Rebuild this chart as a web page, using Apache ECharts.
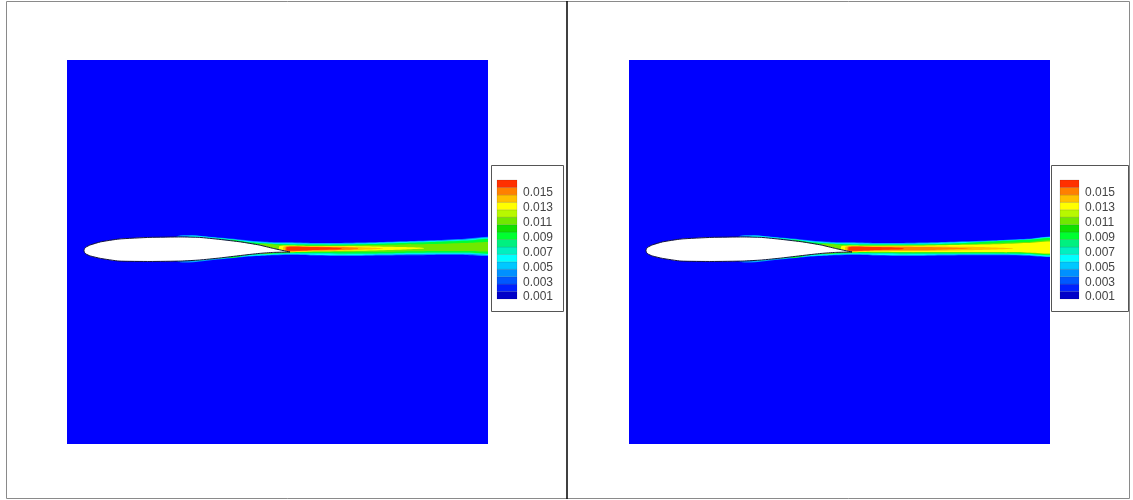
<!DOCTYPE html>
<html>
<head>
<meta charset="utf-8">
<title>wake contour</title>
<script src="https://cdn.jsdelivr.net/npm/echarts@6/dist/echarts.min.js"></script>
<style>
html, body { margin: 0; padding: 0; background: #fff; }
#main { width: 1133px; height: 500px; }
</style>
</head>
<body>
<div id="main"></div>
<script>
// contour colours, lowest level first
var levelColors = ['#0000c8', '#0020ff', '#0058ff', '#0090ff', '#00c8ff', '#00ffff', '#00f0c0', '#00f080',
	'#00ff30', '#10e000', '#70e800', '#b8f800', '#ffff00', '#ffc000', '#ff8000', '#ff3000'];
// band edges of the colour bar
var levelEdges = [0.00075, 0.00175, 0.00275, 0.00375, 0.00475, 0.00575, 0.00675, 0.00775, 0.00875,
	0.00975, 0.01075, 0.01175, 0.01275, 0.01375, 0.01475, 0.01575, 0.01675];
var legendTicks = [0.001, 0.003, 0.005, 0.007, 0.009, 0.011, 0.013, 0.015];

// airfoil surface [x/c, y/c]
var airfoilUpper = [[0, 0.002], [0.003, 0.012], [0.01, 0.019], [0.03, 0.029], [0.08, 0.044], [0.17, 0.058],
	[0.32, 0.066], [0.47, 0.068], [0.56, 0.066], [0.66, 0.056], [0.76, 0.044], [0.85, 0.029], [0.92, 0.012], [1.0, -0.005]];
var airfoilLower = [[0, 0.002], [0.003, -0.008], [0.01, -0.015], [0.03, -0.024], [0.08, -0.036], [0.17, -0.049],
	[0.32, -0.051], [0.47, -0.049], [0.56, -0.044], [0.66, -0.034], [0.76, -0.022], [0.85, -0.012], [0.92, -0.007], [1.0, -0.005]];

// wake / boundary layer contour bands: [x/c, upper y/c, lower y/c]
// left panel
var leftBand3 = [[0.45, 0.070, -0.050], [0.65, 0.065, -0.041], [0.8, 0.051, -0.027], [0.9, 0.044, -0.022], [1.0, 0.042, -0.020],
	[1.1, 0.039, -0.022], [1.25, 0.039, -0.025], [1.4, 0.042, -0.023], [1.55, 0.047, -0.021], [1.7, 0.052, -0.019], [1.85, 0.059, -0.019], [2.0, 0.064, -0.019]];
var leftBand5 = [[0.5, 0.068, -0.045], [0.65, 0.063, -0.037], [0.8, 0.047, -0.024], [0.9, 0.039, -0.019], [1.0, 0.037, -0.015],
	[1.1, 0.035, -0.018], [1.25, 0.035, -0.020], [1.4, 0.038, -0.018], [1.55, 0.043, -0.016], [1.7, 0.048, -0.014], [1.85, 0.055, -0.014], [2.0, 0.060, -0.014]];
var leftBand6 = [[0.6, 0.060, -0.036], [0.8, 0.044, -0.021], [0.9, 0.037, -0.017], [1.0, 0.035, -0.013], [1.1, 0.033, -0.015],
	[1.25, 0.033, -0.017], [1.4, 0.036, -0.015], [1.55, 0.041, -0.013], [1.7, 0.046, -0.011], [1.85, 0.053, -0.011], [2.0, 0.058, -0.011]];
var leftBand8 = [[0.7, 0.051, -0.031], [0.8, 0.042, -0.019], [0.9, 0.035, -0.014], [1.0, 0.032, -0.010], [1.1, 0.031, -0.010],
	[1.25, 0.031, -0.012], [1.4, 0.034, -0.012], [1.55, 0.039, -0.010], [1.7, 0.044, -0.008], [1.85, 0.050, -0.008], [2.0, 0.055, -0.008]];
var leftBand10 = [[0.85, 0.032, -0.012], [0.95, 0.029, -0.007], [1.0, 0.027, -0.005], [1.1, 0.027, -0.005], [1.25, 0.027, -0.005],
	[1.4, 0.029, -0.004], [1.55, 0.032, -0.002], [1.7, 0.034, 0.000], [1.85, 0.039, 0.000], [2.0, 0.041, 0.002]];
var leftBand12 = [[0.95, 0.024, -0.004], [1.1, 0.024, -0.002], [1.25, 0.024, 0.000], [1.4, 0.022, 0.002], [1.55, 0.019, 0.007],
	[1.65, 0.015, 0.012]];
var leftBand13 = [[0.97, 0.022, -0.002], [1.1, 0.022, 0.000], [1.25, 0.022, 0.002], [1.38, 0.017, 0.007], [1.45, 0.013, 0.011]];
var leftBand14 = [[0.98, 0.021, 0.000], [1.1, 0.021, 0.002], [1.25, 0.019, 0.005], [1.33, 0.014, 0.010]];
var leftBand15 = [[0.985, 0.019, 0.002], [1.1, 0.019, 0.004], [1.2, 0.017, 0.007], [1.25, 0.013, 0.010]];

// right panel
var rightBand3 = [[0.45, 0.070, -0.050], [0.65, 0.065, -0.041], [0.8, 0.051, -0.027], [0.9, 0.044, -0.022], [1.0, 0.042, -0.020],
	[1.1, 0.039, -0.022], [1.25, 0.039, -0.025], [1.4, 0.042, -0.023], [1.55, 0.047, -0.021], [1.7, 0.052, -0.021], [1.85, 0.059, -0.023], [2.0, 0.066, -0.023]];
var rightBand5 = [[0.5, 0.068, -0.045], [0.65, 0.063, -0.037], [0.8, 0.047, -0.024], [0.9, 0.039, -0.019], [1.0, 0.037, -0.015],
	[1.1, 0.035, -0.018], [1.25, 0.035, -0.020], [1.4, 0.038, -0.018], [1.55, 0.043, -0.016], [1.7, 0.049, -0.016], [1.85, 0.056, -0.019], [2.0, 0.064, -0.021]];
var rightBand6 = [[0.6, 0.060, -0.036], [0.8, 0.044, -0.021], [0.9, 0.037, -0.017], [1.0, 0.035, -0.013], [1.1, 0.033, -0.015],
	[1.25, 0.033, -0.017], [1.4, 0.036, -0.015], [1.55, 0.040, -0.013], [1.7, 0.047, -0.013], [1.85, 0.054, -0.016], [2.0, 0.061, -0.018]];
var rightBand8 = [[0.7, 0.051, -0.031], [0.8, 0.042, -0.019], [0.9, 0.035, -0.014], [1.0, 0.032, -0.010], [1.1, 0.031, -0.010],
	[1.25, 0.031, -0.012], [1.4, 0.033, -0.012], [1.55, 0.039, -0.012], [1.7, 0.047, -0.012], [1.85, 0.054, -0.013], [2.0, 0.059, -0.015]];
var rightBand10 = [[0.85, 0.032, -0.012], [0.95, 0.029, -0.007], [1.0, 0.027, -0.005], [1.1, 0.027, -0.007], [1.25, 0.028, -0.008],
	[1.4, 0.030, -0.008], [1.55, 0.033, -0.008], [1.7, 0.038, -0.008], [1.85, 0.043, -0.010], [2.0, 0.050, -0.012]];
var rightBand12 = [[0.95, 0.024, -0.004], [1.1, 0.025, -0.004], [1.25, 0.025, -0.005], [1.4, 0.027, -0.005], [1.55, 0.030, -0.005],
	[1.7, 0.033, -0.005], [1.85, 0.039, -0.007], [2.0, 0.043, -0.009]];
var rightBand13 = [[0.97, 0.022, -0.002], [1.1, 0.022, 0.000], [1.25, 0.022, 0.000], [1.4, 0.022, 0.000], [1.55, 0.020, 0.003],
	[1.65, 0.018, 0.006], [1.78, 0.013, 0.011]];
var rightBand14 = [[0.98, 0.021, 0.000], [1.1, 0.021, 0.002], [1.25, 0.020, 0.003], [1.4, 0.018, 0.005], [1.52, 0.015, 0.009], [1.58, 0.012, 0.011]];
var rightBand15 = [[0.985, 0.019, 0.002], [1.1, 0.019, 0.004], [1.2, 0.017, 0.007], [1.25, 0.013, 0.010]];

// which colour level each band uses
var bandLevels = [3, 5, 6, 8, 10, 12, 13, 14, 15];
var leftWake = [leftBand3, leftBand5, leftBand6, leftBand8, leftBand10, leftBand12, leftBand13, leftBand14, leftBand15];
var rightWake = [rightBand3, rightBand5, rightBand6, rightBand8, rightBand10, rightBand12, rightBand13, rightBand14, rightBand15];

var xRange = [-0.0825, 1.961];
var yRange = [-0.937, 0.927];

/**
 * 一个等值带：上边界正向，下边界反向拼成多边形
 */
function wakeSeries(gi, wake) {
	return {
		type : 'custom',
		xAxisIndex : gi,
		yAxisIndex : gi,
		clip : true,
		silent : true,
		data : wake.map(function(b, i) { return [b[0][0], b[0][1], i]; }),
		renderItem : function(params, api) {
			var band = wake[params.dataIndex];
			var pts = [];
			for (var k = 0; k < band.length; k++) {
				pts.push(api.coord([band[k][0], band[k][1]]));
			}
			for (var k = band.length - 1; k >= 0; k--) {
				pts.push(api.coord([band[k][0], band[k][2]]));
			}
			return {
				type : 'polygon',
				shape : { points : pts, smooth : 0.25 },
				style : { fill : levelColors[bandLevels[params.dataIndex]] }
			};
		}
	};
}

/**
 * 翼型（白色填充，黑色轮廓）
 */
function airfoilSeries(gi) {
	return {
		type : 'custom',
		xAxisIndex : gi,
		yAxisIndex : gi,
		clip : true,
		silent : true,
		data : [[0, 0]],
		renderItem : function(params, api) {
			var pts = [];
			for (var k = 0; k < airfoilUpper.length; k++) {
				pts.push(api.coord(airfoilUpper[k]));
			}
			for (var k = airfoilLower.length - 1; k > 0; k--) {
				pts.push(api.coord(airfoilLower[k]));
			}
			return {
				type : 'polygon',
				shape : { points : pts, smooth : 0.15 },
				style : { fill : '#ffffff', stroke : '#14143c', lineWidth : 1 }
			};
		}
	};
}

/**
 * 色标
 */
function legendSeries(gi) {
	return {
		type : 'custom',
		xAxisIndex : gi,
		yAxisIndex : gi,
		silent : true,
		data : levelColors.map(function(c, i) { return [0.5, (levelEdges[i] + levelEdges[i + 1]) / 2, i]; }),
		renderItem : function(params, api) {
			var i = params.dataIndex;
			var lo = api.coord([0, levelEdges[i]]);
			var hi = api.coord([1, levelEdges[i + 1]]);
			return {
				type : 'rect',
				shape : { x : lo[0], y : hi[1], width : hi[0] - lo[0], height : lo[1] - hi[1] },
				style : { fill : levelColors[i], stroke : 'rgba(0,0,0,0.18)', lineWidth : 0.6 }
			};
		}
	};
}

function plotAxes(gi) {
	return {
		x : { gridIndex : gi, type : 'value', min : xRange[0], max : xRange[1], show : false },
		y : { gridIndex : gi, type : 'value', min : yRange[0], max : yRange[1], show : false }
	};
}

function legendAxes(gi) {
	return {
		x : { gridIndex : gi, type : 'value', min : 0, max : 1, show : false },
		y : {
			gridIndex : gi, type : 'value', position : 'right',
			min : levelEdges[0], max : levelEdges[levelEdges.length - 1],
			axisLine : { show : false }, axisTick : { show : false }, splitLine : { show : false },
			axisLabel : {
				customValues : legendTicks,
				formatter : function(v) { return v.toFixed(3); },
				margin : 6, color : '#444', fontSize : 12, fontFamily : 'Liberation Sans'
			}
		}
	};
}

var axes = [plotAxes(0), plotAxes(1), legendAxes(2), legendAxes(3)];

var option = {
	backgroundColor : '#ffffff',
	animation : false,
	grid : [
		{ left : 67, top : 60, width : 421, height : 384, show : true, backgroundColor : '#0000ff', borderWidth : 0 },
		{ left : 629, top : 60, width : 421, height : 384, show : true, backgroundColor : '#0000ff', borderWidth : 0 },
		{ left : 497, top : 180, width : 20, height : 119 },
		{ left : 1060, top : 180, width : 19, height : 119 }
	],
	xAxis : axes.map(function(a) { return a.x; }),
	yAxis : axes.map(function(a) { return a.y; }),
	graphic : [
		{ type : 'rect', shape : { x : 6.5, y : 1.5, width : 1123, height : 497 }, style : { fill : 'none', stroke : '#8a8a8a', lineWidth : 1 }, z : 100 },
		{ type : 'line', shape : { x1 : 567, y1 : 1, x2 : 567, y2 : 499 }, style : { stroke : '#000', lineWidth : 1.5 }, z : 100 },
		{ type : 'rect', shape : { x : 491.5, y : 165.5, width : 72, height : 146 }, style : { fill : '#fff', stroke : '#555', lineWidth : 1 }, z : -1 },
		{ type : 'rect', shape : { x : 1051.5, y : 165.5, width : 77, height : 146 }, style : { fill : '#fff', stroke : '#555', lineWidth : 1 }, z : -1 }
	],
	series : [
		wakeSeries(0, leftWake), airfoilSeries(0),
		wakeSeries(1, rightWake), airfoilSeries(1),
		legendSeries(2), legendSeries(3)
	]
};

var myChart = echarts.init(document.getElementById('main'), null, { renderer : 'canvas' });
myChart.setOption(option);
</script>
</body>
</html>
